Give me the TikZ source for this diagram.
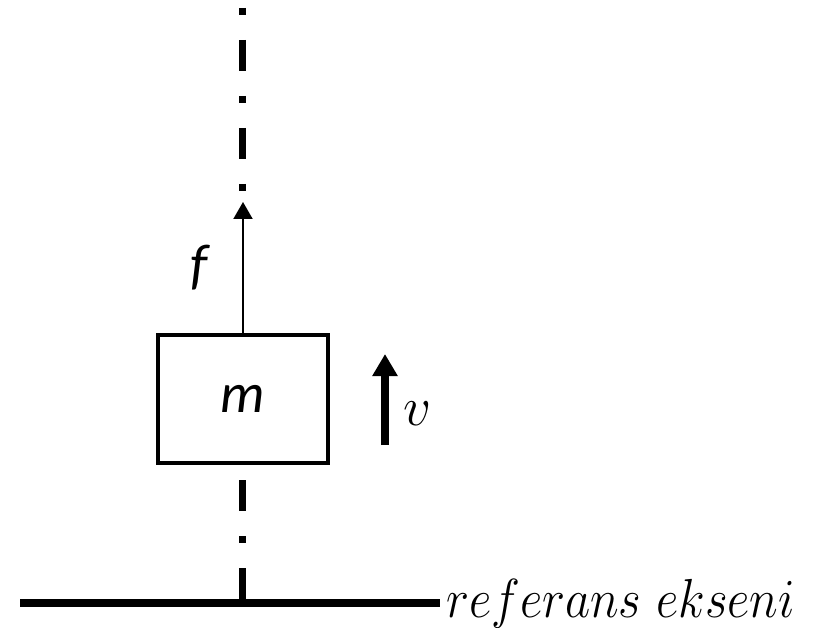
\RequirePackage{fix-cm}
\documentclass[tikz,border=0pt]{standalone}
\usepackage{amsmath}
\usepackage{graphicx}
\usepackage{fontspec}
\newfontfamily\calfont{Carlito}
\usepackage{tikz}
\usetikzlibrary{arrows.meta}

\newcommand\labsize{\fontsize{56}{64}\selectfont}
\newcommand\mathsize{\fontsize{55}{64}\selectfont}
\tikzset{axisline/.style={line width=7pt, dash pattern=on 31pt off 25pt on 7pt off 25pt}}

\begin{document}
\begin{tikzpicture}[x=1pt, y=-1pt]
\useasboundingbox (0,0) rectangle (813,628);

\node[ draw, rectangle, line width=3.5pt, minimum width=170pt, minimum height=128pt, inner sep=0pt] (M) at (243, 399) {\calfont\itshape\labsize m};
\node (F) at (199, 268) {\calfont\itshape\labsize f};
\node (V) at (417, 414) {\mathsize $v$};
\node[ anchor=base west, inner sep=0pt] (R) at (446, 617) {\scalebox{0.89}[1]{\mathsize $referans\ ekseni$}};

\coordinate (Ftip) at (243, 202);
\coordinate (A1) at (242.5, 8);
\coordinate (A2) at (242.5, 191);
\coordinate (A3) at (242.5, 480);
\coordinate (G) at (242.5, 603);
\coordinate (G1) at (20, 603);
\coordinate (G2) at (440, 603);
\coordinate (V1) at (385, 445);
\coordinate (V2) at (385, 354);

\draw[line width=2pt, -{Triangle[length=17pt, width=19pt]}] (M.north) -- (Ftip);
\draw[axisline, dash phase=56pt] (A1) -- (A2);
\draw[axisline] (A3) -- (G);
\draw[line width=8pt] (G1) -- (G2);
\draw[line width=8pt, -{Triangle[length=22pt, width=24pt]}] (V1) -- (V2);
\end{tikzpicture}
\end{document}
